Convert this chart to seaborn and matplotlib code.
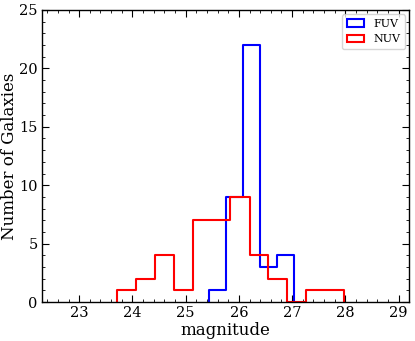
import numpy as np
import pandas as pd
import matplotlib
matplotlib.use("Agg")
import matplotlib.pyplot as plt
from matplotlib.patches import Patch
from matplotlib.ticker import MultipleLocator
import seaborn as sns

# bin edges and counts
fuv_edges = [25.44, 25.76, 26.08, 26.40, 26.71, 27.03]
fuv_counts = [1, 9, 22, 3, 4]
nuv_edges = [23.71, 24.07, 24.42, 24.78, 25.13, 25.49, 25.84, 26.20, 26.55, 26.91, 27.26, 27.62, 27.97]
nuv_counts = [1, 2, 4, 1, 7, 7, 9, 4, 2, 0, 1, 1]


def centers(edges):
    e = np.array(edges)
    return (e[:-1] + e[1:]) / 2


fuv = pd.DataFrame({"mag": centers(fuv_edges), "n": fuv_counts})
nuv = pd.DataFrame({"mag": centers(nuv_edges), "n": nuv_counts})

sns.set_style("ticks")
plt.rcParams["font.family"] = ["DejaVu Serif"]
for k in ["text.color", "axes.labelcolor", "xtick.color", "ytick.color", "axes.edgecolor"]:
    plt.rcParams[k] = "black"

fig = plt.figure(figsize=(4.15, 3.41), dpi=100)
ax = fig.add_axes([0.101, 0.114, 0.885, 0.857])

for df, edges, col in [(fuv, fuv_edges, "blue"), (nuv, nuv_edges, "red")]:
    sns.histplot(data=df, x="mag", weights="n", bins=edges, element="step",
                 fill=False, color=col, linewidth=1.5, ax=ax)
    # close the outline down to the baseline at both ends
    ln = ax.lines[-1]
    x, y = ln.get_data()
    ln.set_data(np.r_[x[0], x, x[-1]], np.r_[0, y, 0])

ax.set_xlim(22.3, 29.2)
ax.set_ylim(0, 25)
ax.xaxis.set_major_locator(MultipleLocator(1))
ax.xaxis.set_minor_locator(MultipleLocator(0.2))
ax.yaxis.set_major_locator(MultipleLocator(5))
ax.yaxis.set_minor_locator(MultipleLocator(1))
ax.tick_params(which="both", direction="in", top=True, right=True, labelsize=10.5)
ax.tick_params(which="major", length=5, pad=3)
ax.tick_params(which="minor", length=2.5)
for s in ax.spines.values():
    s.set_linewidth(1.0)

ax.set_xlabel("magnitude", fontsize=12, labelpad=1)
ax.set_ylabel("Number of Galaxies", fontsize=12, labelpad=1)

handles = [Patch(facecolor="none", edgecolor="blue", linewidth=1.5, label="FUV"),
           Patch(facecolor="none", edgecolor="red", linewidth=1.5, label="NUV")]
ax.legend(handles=handles, loc="upper right", fontsize=8, frameon=True,
          handlelength=1.6, borderaxespad=0.4)

fig.savefig("out.png", dpi=100)
